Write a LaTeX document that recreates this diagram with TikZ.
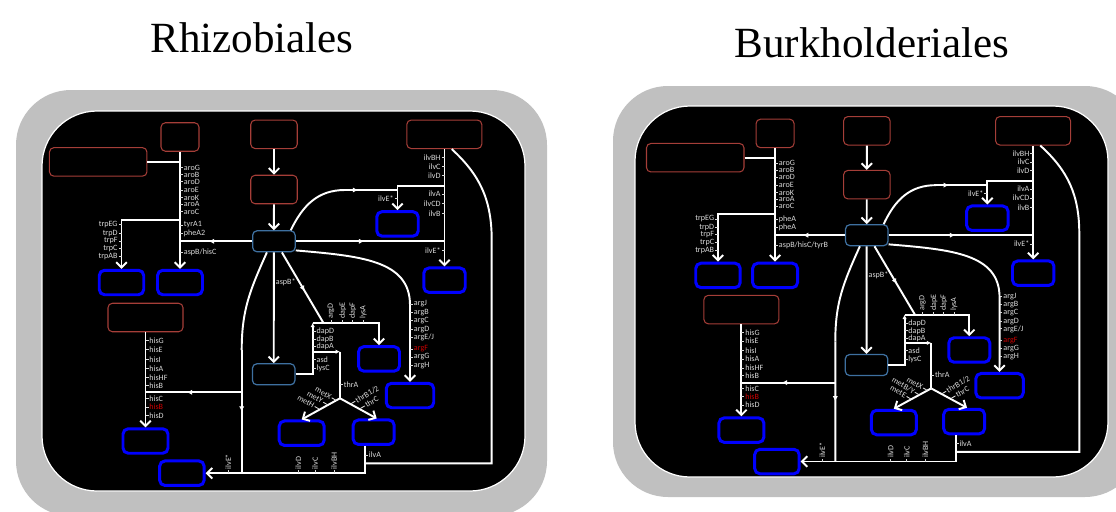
\documentclass[tikz,border=0pt]{standalone}
\usepackage{fontspec}
\setmainfont{Liberation Serif}
\newfontfamily\tagfont{Carlito}
\usetikzlibrary{arrows.meta, positioning, calc, decorations.markings}
\definecolor{cellgrey}{RGB}{192,192,192}
\definecolor{srcred}{RGB}{165,62,56}
\definecolor{hubblue}{RGB}{62,112,160}
\definecolor{tagred}{RGB}{205,0,0}

% one cell map: #1 name prefix, #2/#3 phe labels, #4 aspB label, #5/#6 met labels
\newcommand\cellpanel[6]{%
  % source and hub boxes
  \node[src, minimum width=0.76cm] (#1aroS) at (180,137) {};
  \node[src, minimum width=1.95cm] (#1wide) at (98.2,161.9) {};
  \node[src, minimum width=0.93cm] (#1topS) at (274,134.3) {};
  \node[src, minimum width=0.93cm] (#1midS) at (274,189.5) {};
  \node[src, minimum width=1.50cm] (#1ilvS) at (444.3,134.3) {};
  \node[src, minimum width=1.50cm] (#1hisS) at (145.5,317.5) {};
  \node[hub] (#1hub) at (273.9,241.3) {};
  \node[hub] (#1asp) at (273.7,374.3) {};
  % product boxes
  \node[sink, minimum width=0.89cm] (#1trp) at (121.5,282.5) {};
  \node[sink, minimum width=0.90cm] (#1aro) at (180,282.5) {};
  \node[sink, minimum width=0.83cm] (#1ilvA) at (397.5,223.9) {};
  \node[sink, minimum width=0.83cm] (#1ilvB) at (444.5,280.2) {};
  \node[sink, minimum width=0.82cm] (#1lys) at (379,358.9) {};
  \node[sink, minimum width=0.95cm] (#1arg) at (410,395.5) {};
  \node[sink, minimum width=0.90cm] (#1met) at (301.7,433.2) {};
  \node[sink, minimum width=0.82cm] (#1thr) at (373.7,432.2) {};
  \node[sink, minimum width=0.90cm] (#1his) at (145.5,441) {};
  \node[sink, minimum width=0.89cm] (#1ile) at (181.9,473.2) {};
  % aromatic branch
  \draw[flow] (#1wide.east) -- (#1wide.east -| #1aroS.south);
  \draw[arr] (#1aroS.south) -- (#1aro.north);
  \coordinate (#1trpJ) at (#1aroS.south |- 0,220);
  \draw[arr] (#1trpJ) -| (#1trp.north);
  \draw[flow, midarr=0.6] (#1hub.west) -- (#1hub.west -| #1aroS.south);
  % central column
  \draw[arr] (#1topS) -- (#1midS);
  \draw[arr] (#1midS) -- (#1hub);
  \draw[arr] (#1hub) -- (#1asp);
  % branched chain
  \draw[arr] (#1ilvB.north |- #1ilvS.south) -- (#1ilvB.north);
  \draw[flow, midarr=0.46] (#1hub.east) -- (#1hub.east -| #1ilvB.north);
  \coordinate (#1ilvJ) at (#1ilvB.north |- 0,185.7);
  \draw[arr] (#1ilvJ) -| (#1ilvA.north);
  \draw[flow] ($(#1hub.north east)+(-5,0)$) .. controls (303,205) and (318,190) .. (345,190) coordinate (#1ilvC);
  \draw[flow, midarr=0.25] (#1ilvC) -- (#1ilvC -| #1ilvA.north);
  \draw[flow] ($(#1ilvS.south)+(7.4,0)$) .. controls (480,175) and (491.7,200) .. (491.7,240) -- (491.7,463.3) -- (365,463.3);
  % arginine
  \draw[arr] ($(#1hub.south east)+(0,-2)$) .. controls (360,256) and (410,260) .. (410,305) -- (#1arg.north);
  % lysine and threonine
  \draw[flow, midarr=0.55] ($(#1hub.south)+(8,0)$) -- (323.3,322.7);
  \coordinate (#1dapT) at (312.7,322.7);
  \draw[arr] (#1dapT) -| (#1lys.north);
  \draw[smalltip] (#1asp.east) -| (#1dapT);
  \coordinate (#1thrT) at (340,351.7);
  \draw[smalltip] (#1dapT |- #1thrT) -- (#1thrT);
  \coordinate (#1br) at (340,398.3);
  \draw[flow] (#1thrT) -- (#1br);
  \draw[arr] (#1br) -- (#1met.north);
  \draw[arr] (#1br) -- ($(#1thr.north)+(3,0)$);
  \draw[arr] (#1thr.south -| 365,0) |- (#1ile.east);
  % histidine
  \draw[arr] (#1hisS.south) -- (#1his.north);
  \draw[flow] ($(#1hub.south)+(-7,0)$) .. controls (250,290) and (241.7,310) .. (241.7,350) coordinate (#1hisT);
  \draw[flow, midarr=0.5] (#1hisT) -- (241.7,473.3);
  \draw[flow, midarr=0.57] (241.7,392.3) -- (#1hisS.south |- 0,392.3);
  % gene labels
  \foreach \t/\y [count=\i] in {aroG/167.7, aroB/174.7, aroD/181.7, aroE/190, aroK/197.7, aroA/204.3, aroC/211.7, #2/225, #3/233}
    \draw[tagtick] (180,\y) -- ++(3,0) node[tag, anchor=west] (#1aroT\i) {\t};
  \draw[tagtick] (180,252) -- ++(3,0) node[tag, anchor=west] (#1aspT) {#4};
  \foreach \t/\y [count=\i] in {trpEG/224.7, trpD/233.3, trpF/241, trpC/248.3, trpAB/256.7}
    \draw[tagtick] (121.5,\y) -- ++(-3,0) node[tag, anchor=east] (#1trpT\i) {\t};
  \foreach \t/\y [count=\i] in {ilvBH/157.3, ilvC/166.3, ilvD/175.3, ilvA/194, ilvCD/203.3, ilvB/213.3, ilvE*/250.3}
    \draw[tagtick] (444.5,\y) -- ++(-3,0) node[tag, anchor=east] (#1ilvT\i) {\t};
  \draw[tagtick] (397.5,198.3) -- ++(-3,0) node[tag, anchor=east] (#1ilvE) {ilvE*};
  \foreach \t/\y [count=\i] in {argJ/304, argB/312.3, argC/320.7, argD/329.7, {argE/J}/337.3, {\textcolor{tagred}{argF}}/349, argG/357, argH/365.7}
    \draw[tagtick] (410,\y) -- ++(3,0) node[tag, anchor=west] (#1argT\i) {\t};
  \foreach \t/\y [count=\i] in {hisG/340.7, hisE/349.7, hisI/359.3, hisA/368.3, hisHF/377.3, hisB/385.3, hisC/398.3, {\textcolor{tagred}{hisB}}/407, hisD/415.3}
    \draw[tagtick] (145.5,\y) -- ++(3,0) node[tag, anchor=west] (#1hisT\i) {\t};
  \foreach \t/\y [count=\i] in {dapD/331.7, dapB/339.3, dapA/346.7, asd/359.3, lysC/368.7}
    \draw[tagtick] (312.7,\y) -- ++(3,0) node[tag, anchor=west] (#1dapT\i) {\t};
  \foreach \t/\x [count=\i] in {argD/331, dapE/342.7, dapF/352.7, lysA/363.3}
    \draw[tagtick] (\x,322.7) -- ++(0,-3) node[tag, rotate=90, anchor=west] (#1lysT\i) {\t};
  \draw[tagtick] (340,384.5) -- ++(3,0) node[tag, anchor=west] (#1thrA) {thrA};
  \foreach \t/\x/\y [count=\i] in {metX/336/400.3, {#5}/327.5/404.7, {#6}/319/409}
    \draw[tagtick] (\x,\y) -- ++(-4.3,-2.5) node[tag, rotate=-30, anchor=east] (#1metT\i) {\t};
  \foreach \t/\x/\y [count=\i] in {{thrB1/2}/351/403.7, thrC/360.5/408.4}
    \draw[tagtick] (\x,\y) -- ++(4.3,-2.5) node[tag, rotate=30, anchor=west] (#1thrT\i) {\t};
  \foreach \t/\x [count=\i] in {ilvE*/228.3, ilvD/298.3, ilvC/315, ilvBH/334}
    \draw[tagtick] (\x,473.3) -- ++(0,-3) node[tag, rotate=90, anchor=west] (#1ileT\i) {\t};
  \draw[tagtick] (365,455) -- ++(3,0) node[tag, anchor=west] (#1ilvAT) {ilvA};
  \node[tag, anchor=west] (#1aspB) at (275,282.7) {aspB*};
}

\begin{document}
\begin{tikzpicture}[x=0.02cm, y=-0.02cm,
  every node/.style={inner sep=0pt},
  src/.style={draw=srcred, line width=0.6pt, rounded corners=2.5pt, minimum height=0.57cm},
  hub/.style={draw=hubblue, line width=0.7pt, rounded corners=2.5pt, minimum width=0.85cm, minimum height=0.42cm},
  sink/.style={draw=blue, line width=1.7pt, rounded corners=3pt, minimum height=0.49cm},
  flow/.style={white, line width=1.1pt},
  arr/.style={flow, -{Straight Barb[length=3pt,width=6pt]}},
  smalltip/.style={flow, -{Latex[length=2.5pt,width=2.5pt]}},
  midarr/.style={postaction={decorate}, decoration={markings,
    mark=at position #1 with {\arrow{Latex[length=3pt,width=3pt]}}}},
  tagtick/.style={white!85!black, line width=0.5pt},
  tag/.style={font=\tagfont\fontsize{4.6}{5}\selectfont, text=white!85!black, inner sep=0.3pt},
  title/.style={font=\fontsize{24.5}{28}\selectfont}]
  \useasboundingbox (0,0) rectangle (1116,511);
  \clip (0,0) rectangle (1116,511);
  % titles
  \node[title] (rhizo) at (252,38) {Rhizobiales};
  \node[title] (burk) at (872,43) {Burkholderiales};
  % cell envelopes
  \fill[cellgrey, rounded corners=1.1cm] (16,90) rectangle (547,516);
  \draw[white, line width=0.7pt, fill=black, rounded corners=1.1cm] (42,111) rectangle (525,491);
  \fill[cellgrey, rounded corners=1.1cm] (613,86) rectangle (1140,497);
  \draw[white, line width=0.7pt, fill=black, rounded corners=1.1cm] (635,106) rectangle (1108,477);
  % Rhizobiales
  \cellpanel{a}{tyrA1}{pheA2}{aspB/hisC}{metY}{metH}
  % Burkholderiales
  \begin{scope}[shift={(599.4,-0.3)}, scale=0.976]
    \cellpanel{b}{pheA}{pheA}{aspB/hisC/tyrB}{metB/Y}{metE}
  \end{scope}
\end{tikzpicture}
\end{document}
